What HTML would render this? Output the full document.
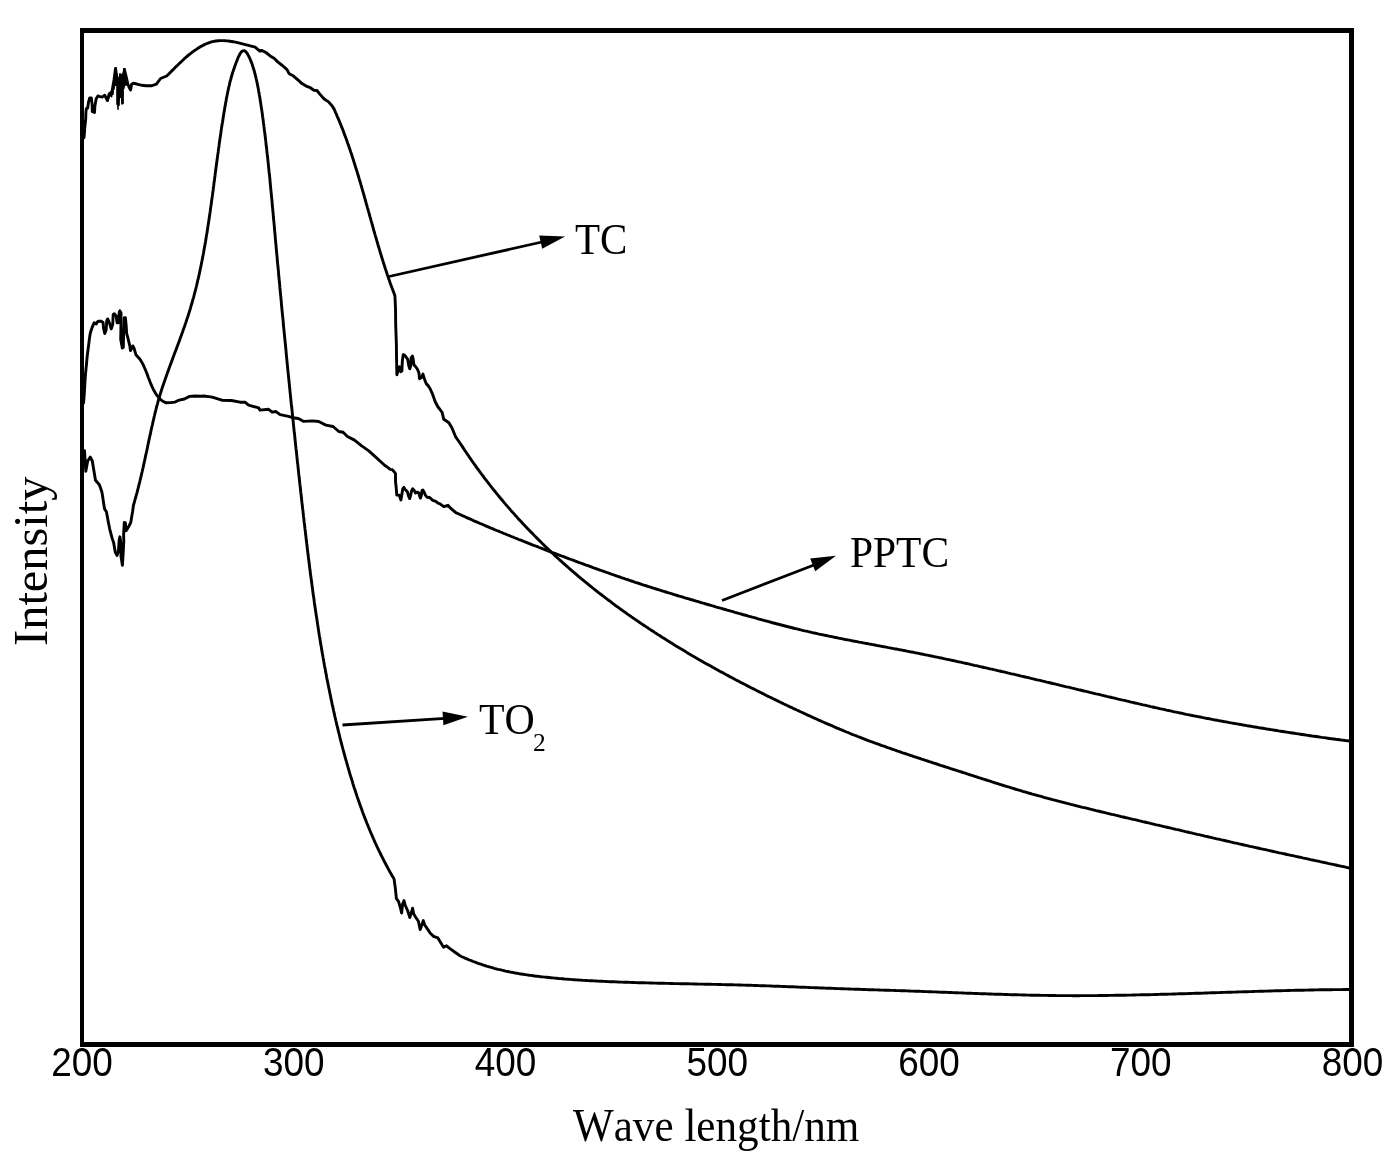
<!DOCTYPE html>
<html><head><meta charset="utf-8"><style>
html,body{margin:0;padding:0;background:#fff;}
body{width:1397px;height:1162px;overflow:hidden;}
svg{display:block;will-change:transform;}
.s{font-family:"Liberation Sans",sans-serif;font-kerning:none;}
.r{font-family:"Liberation Serif",serif;font-kerning:none;}
</style></head><body>
<svg width="1397" height="1162" viewBox="0 0 1397 1162">
<rect x="0" y="0" width="1397" height="1162" fill="#fff"/>
<g fill="none" stroke="#000" stroke-width="2.9" stroke-linejoin="round" stroke-linecap="round">
<polyline points="84.0,137.5 84.4,133.0 84.8,127.6 85.7,119.0 85.9,112.5 86.3,108.7 87.6,108.2 88.5,102.2 89.7,97.9 91.3,97.9 92.1,104.4 92.3,111.7 94.5,112.5 94.9,106.1 96.2,98.8 97.9,96.0 100.1,96.6 102.2,97.0 104.8,95.3 107.4,100.5 109.1,94.0 110.5,93.0 112.0,91.5 114.0,80.0 115.5,68.5 117.0,78.0 119.0,85.0 120.5,75.0 122.0,80.0 124.5,70.0 126.5,78.0 127.8,84.0 129.2,87.5 130.6,90.0 131.5,84.4 133.0,83.3 134.7,83.5 138.0,84.4 142.0,85.3 146.1,85.8 151.3,85.8 156.4,84.2 160.6,78.5 166.7,76.0 168.0,74.7 169.4,73.4 170.7,72.0 172.1,70.6 173.5,69.2 174.9,67.8 176.3,66.4 177.8,65.0 179.3,63.5 180.8,62.1 182.3,60.7 183.8,59.3 185.3,57.9 186.9,56.5 188.5,55.2 190.1,53.9 191.7,52.6 193.3,51.4 195.0,50.2 196.7,49.1 198.3,48.0 200.1,46.9 201.8,46.0 203.5,45.1 205.3,44.2 207.1,43.5 208.8,42.8 210.7,42.2 212.5,41.7 214.3,41.3 216.2,41.0 218.1,40.8 220.0,40.6 221.9,40.6 223.8,40.6 225.7,40.8 227.7,40.9 229.6,41.2 231.6,41.5 233.5,41.8 235.5,42.2 237.5,42.6 239.5,43.1 241.4,43.6 243.4,44.1 245.4,44.6 247.4,45.1 249.3,45.6 251.3,46.2 253.3,46.7 255.2,47.2 259.8,51.2 261.6,50.4 265.9,52.5 270.2,55.9 274.1,58.3 277.7,61.9 282.4,65.5 287.0,69.6 289.1,73.7 293.2,75.8 297.9,79.9 302.0,83.6 306.1,86.1 310.3,87.7 313.9,90.3 317.0,90.5 319.6,93.9 324.2,99.0 328.3,101.6 332.0,105.8 334.0,108.9 334.8,110.7 335.6,112.6 336.5,114.4 337.2,116.3 338.0,118.1 338.8,119.9 339.6,121.8 340.3,123.7 341.1,125.5 341.8,127.4 342.6,129.2 343.3,131.1 344.0,133.0 344.7,134.9 345.4,136.7 346.1,138.6 346.8,140.5 347.4,142.4 348.1,144.3 348.8,146.2 349.4,148.1 350.1,150.0 350.7,151.9 351.4,153.8 352.0,155.7 352.6,157.6 353.2,159.5 353.8,161.4 354.4,163.3 355.0,165.2 355.6,167.1 356.2,169.0 356.8,170.9 357.4,172.9 358.0,174.8 358.6,176.7 359.1,178.6 359.7,180.5 360.3,182.5 360.8,184.4 361.4,186.3 362.0,188.3 362.5,190.2 363.1,192.1 363.6,194.0 364.2,196.0 364.7,197.9 365.3,199.8 365.8,201.8 366.3,203.7 366.9,205.6 367.4,207.6 368.0,209.5 368.5,211.4 369.1,213.4 369.6,215.3 370.1,217.2 370.7,219.2 371.2,221.1 371.8,223.0 372.3,225.0 372.9,226.9 373.4,228.8 373.9,230.8 374.5,232.7 375.0,234.6 375.6,236.6 376.2,238.5 376.7,240.4 377.3,242.4 377.8,244.3 378.4,246.2 379.0,248.1 379.6,250.1 380.1,252.0 380.7,253.9 381.3,255.8 381.9,257.7 382.5,259.7 383.1,261.6 383.7,263.5 384.3,265.4 384.9,267.3 385.5,269.2 386.2,271.1 386.8,273.0 387.4,274.9 388.1,276.8 388.7,278.7 389.4,280.6 390.0,282.5 390.7,284.4 391.4,286.3 392.1,288.2 392.8,290.1 393.5,291.9 394.2,293.8 394.9,295.7 395.5,308.0 395.7,324.8 396.4,345.0 396.5,356.3 396.9,374.8 398.5,368.4 399.5,366.7 400.6,371.8 401.9,371.0 402.3,361.5 403.2,354.6 404.5,355.1 406.2,357.2 407.7,359.4 408.8,365.8 409.8,368.8 410.7,365.8 411.1,358.1 412.4,355.9 413.3,359.8 413.9,364.9 415.7,366.7 417.4,369.2 418.9,372.7 419.5,378.7 421.2,377.8 423.0,374.0 423.8,377.0 425.1,380.9 426.4,383.9 428.1,385.6 429.8,388.2 432.5,394.0 435.2,401.7 438.0,407.0 440.0,409.5 442.1,412.4 443.8,419.3 448.9,422.7 452.0,428.0 455.8,437.2 460.0,443.0 461.1,444.7 462.2,446.4 463.3,448.1 464.4,449.8 465.6,451.5 466.7,453.2 467.8,454.8 469.0,456.5 470.1,458.2 471.3,459.8 472.4,461.5 473.6,463.2 474.8,464.8 475.9,466.4 477.1,468.1 478.3,469.7 479.5,471.3 480.7,473.0 481.9,474.6 483.1,476.2 484.3,477.8 485.5,479.4 486.8,481.0 488.0,482.6 489.2,484.2 490.5,485.8 491.7,487.3 492.9,488.9 494.2,490.5 495.5,492.0 496.7,493.6 498.0,495.2 499.3,496.7 500.5,498.3 501.8,499.8 503.1,501.3 504.4,502.9 505.7,504.4 507.0,505.9 508.3,507.4 509.6,508.9 510.9,510.4 512.3,511.9 513.6,513.4 514.9,514.9 516.3,516.4 517.6,517.9 519.0,519.4 520.3,520.8 521.7,522.3 523.0,523.8 524.4,525.2 525.8,526.7 527.1,528.1 528.5,529.5 529.9,531.0 531.3,532.4 532.7,533.8 534.1,535.3 535.5,536.7 536.9,538.1 538.3,539.5 539.7,540.9 541.1,542.3 542.5,543.7 544.0,545.1 545.4,546.5 546.8,547.9 548.3,549.2 549.7,550.6 551.1,552.0 552.6,553.3 554.1,554.7 555.5,556.1 557.0,557.4 558.4,558.7 559.9,560.1 561.4,561.4 562.9,562.8 564.4,564.1 565.8,565.4 567.3,566.7 568.8,568.0 570.3,569.3 571.8,570.6 573.3,571.9 574.8,573.2 576.4,574.5 577.9,575.8 579.4,577.1 580.9,578.4 582.4,579.6 584.0,580.9 585.5,582.1 587.1,583.4 588.6,584.7 590.1,585.9 591.7,587.2 593.2,588.4 594.8,589.6 596.4,590.9 597.9,592.1 599.5,593.3 601.1,594.5 602.6,595.7 604.2,596.9 605.8,598.1 607.4,599.3 609.0,600.5 610.6,601.7 612.1,602.9 613.7,604.1 615.3,605.3 616.9,606.5 618.6,607.6 620.2,608.8 621.8,610.0 623.4,611.1 625.0,612.3 626.6,613.4 628.2,614.6 629.9,615.7 631.5,616.9 633.1,618.0 634.8,619.1 636.4,620.2 638.1,621.4 639.7,622.5 641.3,623.6 643.0,624.7 644.6,625.8 646.3,626.9 648.0,628.0 649.6,629.1 651.3,630.2 653.0,631.3 654.6,632.4 656.3,633.5 658.0,634.6 659.6,635.6 661.3,636.7 663.0,637.8 664.7,638.8 666.4,639.9 668.1,641.0 669.8,642.0 671.4,643.1 673.1,644.1 674.8,645.2 676.5,646.2 678.2,647.2 679.9,648.3 681.7,649.3 683.4,650.3 685.1,651.3 686.8,652.4 688.5,653.4 690.2,654.4 691.9,655.4 693.7,656.4 695.4,657.4 697.1,658.4 698.8,659.4 700.6,660.4 702.3,661.4 704.0,662.4 705.8,663.4 707.5,664.4 709.3,665.3 711.0,666.3 712.7,667.3 714.5,668.3 716.2,669.2 718.0,670.2 719.7,671.2 721.5,672.1 723.3,673.1 725.0,674.0 726.8,675.0 728.5,675.9 730.3,676.9 732.1,677.8 733.8,678.7 735.6,679.7 737.4,680.6 739.1,681.5 740.9,682.5 742.7,683.4 744.5,684.3 746.3,685.2 748.0,686.1 749.8,687.1 751.6,688.0 753.4,688.9 755.2,689.8 757.0,690.7 758.8,691.6 760.6,692.5 762.4,693.4 764.2,694.3 765.9,695.2 767.7,696.1 769.6,697.0 771.4,697.8 773.2,698.7 775.0,699.6 776.8,700.5 778.6,701.4 780.4,702.2 782.2,703.1 784.0,704.0 785.8,704.8 787.7,705.7 789.5,706.6 791.3,707.4 793.1,708.3 794.9,709.1 796.8,710.0 798.6,710.8 800.4,711.7 802.2,712.5 804.1,713.4 805.9,714.2 807.7,715.1 809.6,715.9 811.4,716.7 813.2,717.6 815.1,718.4 816.9,719.2 818.8,720.1 820.6,720.9 822.4,721.7 824.3,722.5 826.1,723.3 828.0,724.1 829.8,724.9 831.7,725.7 833.5,726.5 835.4,727.3 837.2,728.1 839.1,728.9 840.9,729.7 842.8,730.4 844.6,731.2 846.5,732.0 848.4,732.7 850.2,733.5 852.1,734.3 853.9,735.0 855.8,735.7 857.7,736.5 859.5,737.2 861.4,737.9 863.3,738.6 865.1,739.4 867.0,740.1 868.9,740.8 870.7,741.5 872.6,742.2 874.5,742.9 876.4,743.5 878.2,744.2 880.1,744.9 882.0,745.6 883.9,746.2 885.8,746.9 887.6,747.6 889.5,748.2 891.4,748.9 893.3,749.5 895.2,750.2 897.0,750.8 898.9,751.5 900.8,752.1 902.7,752.8 904.6,753.4 906.5,754.0 908.4,754.7 910.2,755.3 912.1,755.9 914.0,756.6 915.9,757.2 917.8,757.8 919.7,758.4 921.6,759.1 923.5,759.7 925.4,760.3 927.3,760.9 929.2,761.6 931.1,762.2 933.0,762.8 934.8,763.4 936.7,764.0 938.6,764.6 940.5,765.3 942.4,765.9 944.3,766.5 946.2,767.1 948.1,767.7 950.0,768.3 951.9,769.0 953.9,769.6 955.8,770.2 957.7,770.8 959.6,771.4 961.5,772.0 963.4,772.6 965.3,773.2 967.2,773.9 969.1,774.5 971.0,775.1 972.9,775.7 974.8,776.3 976.7,776.9 978.6,777.6 980.6,778.2 982.5,778.8 984.4,779.4 986.3,780.0 988.2,780.6 990.1,781.2 992.0,781.8 993.9,782.5 995.9,783.1 997.8,783.7 999.7,784.3 1001.6,784.9 1003.5,785.5 1005.5,786.1 1007.4,786.7 1009.3,787.2 1011.2,787.8 1013.1,788.4 1015.0,789.0 1017.0,789.6 1018.9,790.2 1020.8,790.7 1022.7,791.3 1024.7,791.8 1026.6,792.4 1028.5,793.0 1030.4,793.5 1032.4,794.1 1034.3,794.6 1036.2,795.1 1038.1,795.7 1040.1,796.2 1042.0,796.7 1043.9,797.3 1045.8,797.8 1047.8,798.3 1049.7,798.8 1051.6,799.4 1053.6,799.9 1055.5,800.4 1057.4,800.9 1059.3,801.4 1061.3,801.9 1063.2,802.4 1065.1,802.9 1067.1,803.4 1069.0,803.9 1070.9,804.4 1072.9,804.8 1074.8,805.3 1076.7,805.8 1078.7,806.3 1080.6,806.8 1082.5,807.3 1084.5,807.7 1086.4,808.2 1088.4,808.7 1090.3,809.2 1092.2,809.6 1094.2,810.1 1096.1,810.6 1098.0,811.0 1100.0,811.5 1101.9,812.0 1103.9,812.4 1105.8,812.9 1107.7,813.3 1109.7,813.8 1111.6,814.3 1113.6,814.7 1115.5,815.2 1117.4,815.6 1119.4,816.1 1121.3,816.6 1123.3,817.0 1125.2,817.5 1127.1,817.9 1129.1,818.4 1131.0,818.8 1133.0,819.3 1134.9,819.7 1136.9,820.2 1138.8,820.7 1140.8,821.1 1142.7,821.6 1144.6,822.0 1146.6,822.5 1148.5,822.9 1150.5,823.4 1152.4,823.8 1154.4,824.3 1156.3,824.8 1158.3,825.2 1160.2,825.7 1162.2,826.1 1164.1,826.6 1166.1,827.0 1168.0,827.5 1169.9,827.9 1171.9,828.4 1173.8,828.8 1175.8,829.3 1177.7,829.7 1179.7,830.2 1181.6,830.7 1183.6,831.1 1185.5,831.6 1187.5,832.0 1189.4,832.5 1191.4,832.9 1193.3,833.4 1195.3,833.8 1197.2,834.3 1199.2,834.7 1201.1,835.2 1203.1,835.6 1205.0,836.1 1207.0,836.5 1208.9,837.0 1210.9,837.4 1212.8,837.9 1214.8,838.3 1216.7,838.8 1218.7,839.2 1220.6,839.7 1222.6,840.1 1224.6,840.5 1226.5,841.0 1228.5,841.4 1230.4,841.9 1232.4,842.3 1234.3,842.8 1236.3,843.2 1238.2,843.7 1240.2,844.1 1242.1,844.5 1244.1,845.0 1246.0,845.4 1248.0,845.8 1249.9,846.3 1251.9,846.7 1253.8,847.2 1255.8,847.6 1257.7,848.0 1259.7,848.5 1261.6,848.9 1263.6,849.3 1265.6,849.7 1267.5,850.2 1269.5,850.6 1271.4,851.0 1273.4,851.5 1275.3,851.9 1277.3,852.3 1279.2,852.8 1281.2,853.2 1283.1,853.6 1285.1,854.0 1287.0,854.5 1289.0,854.9 1290.9,855.3 1292.9,855.7 1294.8,856.2 1296.8,856.6 1298.8,857.0 1300.7,857.4 1302.7,857.9 1304.6,858.3 1306.6,858.7 1308.5,859.1 1310.5,859.6 1312.4,860.0 1314.4,860.4 1316.3,860.8 1318.3,861.2 1320.2,861.7 1322.2,862.1 1324.1,862.5 1326.1,862.9 1328.0,863.4 1330.0,863.8 1331.9,864.2 1333.9,864.6 1335.8,865.0 1337.8,865.5 1339.7,865.9 1341.7,866.3 1343.6,866.7 1345.6,867.2 1347.5,867.6 1349.5,868.0"/>
<polyline points="83.5,403.0 84.2,395.0 84.8,385.0 85.4,375.0 86.4,365.0 87.1,357.0 88.0,350.0 88.9,343.0 89.7,336.6 90.4,332.7 91.5,329.3 92.8,325.8 94.1,322.8 95.2,323.5 96.2,324.0 97.3,322.0 98.4,321.3 100.9,321.1 103.1,322.4 103.5,328.0 104.8,333.6 106.1,330.1 106.8,320.7 107.6,318.9 108.6,320.7 109.9,324.3 111.2,328.9 112.7,324.8 113.2,314.5 114.3,313.7 116.1,316.0 117.1,322.7 118.6,322.7 119.2,312.4 119.9,310.8 121.0,312.9 120.9,330.0 120.7,339.2 122.3,348.0 123.3,347.5 123.6,335.1 124.3,317.6 125.4,317.6 126.1,324.8 126.7,333.6 127.7,337.2 128.7,341.3 129.7,345.4 130.5,350.6 132.8,345.9 134.1,348.5 135.9,354.7 140.0,359.2 141.0,360.9 142.0,362.6 143.0,364.4 143.8,366.2 144.6,368.0 145.4,369.9 146.2,371.8 147.0,373.8 147.7,375.7 148.4,377.7 149.2,379.6 149.9,381.5 150.7,383.5 151.5,385.4 152.3,387.2 153.2,389.1 154.1,390.8 155.1,392.6 156.2,394.3 157.3,395.9 158.6,397.4 159.9,398.8 161.3,400.1 162.9,401.2 164.5,402.1 166.3,402.8 170.5,402.6 175.1,402.1 178.2,400.4 184.4,399.0 189.6,396.4 195.0,396.0 200.0,396.2 203.9,396.0 212.2,397.1 221.8,400.2 231.5,400.5 240.0,402.2 245.0,402.2 248.6,405.1 258.6,407.9 260.0,410.1 268.6,409.3 272.2,412.2 275.8,411.5 280.1,414.6 288.5,416.3 292.8,417.7 298.4,418.5 303.7,421.4 312.5,420.9 318.7,421.5 325.9,425.1 333.1,426.5 338.8,431.5 343.1,432.3 347.4,436.5 354.5,440.1 361.7,445.9 368.8,450.9 376.0,457.3 384.6,465.2 388.0,467.6 390.2,469.3 392.3,469.7 394.0,471.5 395.5,473.6 395.5,481.4 396.2,487.8 396.8,495.1 399.2,495.1 400.9,499.9 401.8,494.7 402.8,488.7 403.9,487.4 405.2,489.5 407.4,491.7 408.4,495.6 409.7,498.6 410.8,494.7 411.7,490.4 412.7,488.7 414.2,490.4 415.5,493.0 417.3,492.1 418.8,493.0 420.3,498.1 421.3,495.6 422.0,490.4 422.9,490.0 424.1,492.1 425.4,495.1 427.2,497.3 429.7,497.5 432.8,500.3 435.8,501.4 438.0,503.2 440.0,503.8 443.8,506.6 446.0,506.0 448.1,505.3 450.0,507.6 455.8,512.6 460.0,514.5 461.8,515.3 463.6,516.2 465.5,517.0 467.3,517.8 469.1,518.6 471.0,519.4 472.8,520.3 474.6,521.1 476.4,521.9 478.3,522.7 480.1,523.5 482.0,524.2 483.8,525.0 485.6,525.8 487.5,526.6 489.3,527.4 491.1,528.2 493.0,528.9 494.8,529.7 496.7,530.5 498.5,531.2 500.4,532.0 502.2,532.7 504.0,533.5 505.9,534.2 507.7,535.0 509.6,535.7 511.4,536.5 513.3,537.2 515.1,538.0 517.0,538.7 518.8,539.5 520.7,540.2 522.6,540.9 524.4,541.7 526.3,542.4 528.1,543.1 530.0,543.8 531.8,544.6 533.7,545.3 535.6,546.0 537.4,546.7 539.3,547.5 541.1,548.2 543.0,548.9 544.9,549.6 546.7,550.3 548.6,551.1 550.5,551.8 552.3,552.5 554.2,553.2 556.1,553.9 558.0,554.6 559.8,555.3 561.7,556.0 563.6,556.7 565.4,557.4 567.3,558.1 569.2,558.8 571.1,559.5 573.0,560.2 574.8,560.9 576.7,561.6 578.6,562.3 580.5,563.0 582.3,563.7 584.2,564.4 586.1,565.1 588.0,565.7 589.9,566.4 591.8,567.1 593.6,567.8 595.5,568.5 597.4,569.1 599.3,569.8 601.2,570.5 603.1,571.2 605.0,571.8 606.9,572.5 608.8,573.2 610.6,573.8 612.5,574.5 614.4,575.2 616.3,575.8 618.2,576.5 620.1,577.1 622.0,577.8 623.9,578.4 625.8,579.1 627.7,579.7 629.6,580.4 631.5,581.0 633.4,581.6 635.3,582.3 637.2,582.9 639.1,583.5 641.0,584.1 642.9,584.8 644.8,585.4 646.7,586.0 648.6,586.6 650.5,587.2 652.4,587.8 654.3,588.4 656.2,589.0 658.1,589.6 660.0,590.2 662.0,590.8 663.9,591.4 665.8,592.0 667.7,592.6 669.6,593.2 671.5,593.7 673.4,594.3 675.3,594.9 677.2,595.5 679.2,596.1 681.1,596.6 683.0,597.2 684.9,597.8 686.8,598.3 688.7,598.9 690.7,599.5 692.6,600.0 694.5,600.6 696.4,601.2 698.3,601.7 700.3,602.3 702.2,602.9 704.1,603.4 706.0,604.0 707.9,604.5 709.9,605.1 711.8,605.7 713.7,606.2 715.6,606.8 717.5,607.3 719.5,607.9 721.4,608.4 723.3,609.0 725.3,609.5 727.2,610.1 729.1,610.6 731.0,611.2 733.0,611.7 734.9,612.3 736.8,612.8 738.7,613.4 740.7,613.9 742.6,614.5 744.5,615.0 746.5,615.5 748.4,616.1 750.3,616.6 752.3,617.2 754.2,617.7 756.1,618.2 758.1,618.8 760.0,619.3 761.9,619.8 763.9,620.4 765.8,620.9 767.7,621.4 769.7,621.9 771.6,622.5 773.5,623.0 775.5,623.5 777.4,624.0 779.4,624.5 781.3,625.0 783.2,625.5 785.2,626.0 787.1,626.5 789.1,627.0 791.0,627.5 792.9,628.0 794.9,628.5 796.8,628.9 798.8,629.4 800.7,629.9 802.6,630.3 804.6,630.8 806.5,631.2 808.5,631.7 810.4,632.1 812.3,632.6 814.3,633.0 816.2,633.4 818.2,633.9 820.1,634.3 822.1,634.7 824.0,635.1 826.0,635.5 827.9,635.9 829.9,636.3 831.8,636.7 833.7,637.1 835.7,637.5 837.6,637.9 839.6,638.3 841.5,638.7 843.5,639.1 845.4,639.5 847.4,639.8 849.3,640.2 851.3,640.6 853.2,641.0 855.2,641.3 857.1,641.7 859.1,642.1 861.0,642.4 863.0,642.8 864.9,643.2 866.9,643.5 868.8,643.9 870.8,644.3 872.7,644.6 874.7,645.0 876.6,645.4 878.6,645.7 880.5,646.1 882.5,646.5 884.4,646.8 886.4,647.2 888.3,647.6 890.3,647.9 892.2,648.3 894.2,648.7 896.1,649.0 898.1,649.4 900.0,649.8 902.0,650.1 904.0,650.5 905.9,650.9 907.9,651.3 909.8,651.7 911.8,652.0 913.7,652.4 915.7,652.8 917.6,653.2 919.6,653.6 921.5,654.0 923.5,654.4 925.4,654.8 927.4,655.2 929.4,655.6 931.3,656.0 933.3,656.4 935.2,656.8 937.2,657.2 939.1,657.6 941.1,658.0 943.0,658.4 945.0,658.9 947.0,659.3 948.9,659.7 950.9,660.1 952.8,660.5 954.8,660.9 956.7,661.4 958.7,661.8 960.6,662.2 962.6,662.7 964.6,663.1 966.5,663.5 968.5,663.9 970.4,664.4 972.4,664.8 974.3,665.3 976.3,665.7 978.3,666.1 980.2,666.6 982.2,667.0 984.1,667.5 986.1,667.9 988.0,668.3 990.0,668.8 992.0,669.2 993.9,669.7 995.9,670.1 997.8,670.6 999.8,671.0 1001.8,671.5 1003.7,671.9 1005.7,672.4 1007.6,672.9 1009.6,673.3 1011.5,673.8 1013.5,674.2 1015.5,674.7 1017.4,675.1 1019.4,675.6 1021.3,676.1 1023.3,676.5 1025.3,677.0 1027.2,677.4 1029.2,677.9 1031.1,678.4 1033.1,678.8 1035.1,679.3 1037.0,679.8 1039.0,680.2 1040.9,680.7 1042.9,681.2 1044.9,681.6 1046.8,682.1 1048.8,682.5 1050.7,683.0 1052.7,683.5 1054.7,683.9 1056.6,684.4 1058.6,684.9 1060.5,685.4 1062.5,685.8 1064.5,686.3 1066.4,686.8 1068.4,687.2 1070.4,687.7 1072.3,688.2 1074.3,688.6 1076.2,689.1 1078.2,689.6 1080.2,690.0 1082.1,690.5 1084.1,691.0 1086.0,691.4 1088.0,691.9 1090.0,692.4 1091.9,692.8 1093.9,693.3 1095.9,693.8 1097.8,694.2 1099.8,694.7 1101.7,695.2 1103.7,695.6 1105.7,696.1 1107.6,696.6 1109.6,697.0 1111.6,697.5 1113.5,697.9 1115.5,698.4 1117.4,698.9 1119.4,699.3 1121.4,699.8 1123.3,700.2 1125.3,700.7 1127.3,701.2 1129.2,701.6 1131.2,702.1 1133.2,702.5 1135.1,703.0 1137.1,703.4 1139.0,703.9 1141.0,704.3 1143.0,704.8 1144.9,705.2 1146.9,705.7 1148.9,706.1 1150.8,706.6 1152.8,707.0 1154.8,707.5 1156.7,707.9 1158.7,708.3 1160.7,708.8 1162.6,709.2 1164.6,709.6 1166.5,710.1 1168.5,710.5 1170.5,710.9 1172.4,711.3 1174.4,711.8 1176.4,712.2 1178.3,712.6 1180.3,713.0 1182.3,713.4 1184.2,713.8 1186.2,714.3 1188.2,714.7 1190.1,715.1 1192.1,715.5 1194.1,715.9 1196.0,716.2 1198.0,716.6 1200.0,717.0 1201.9,717.4 1203.9,717.8 1205.9,718.2 1207.8,718.5 1209.8,718.9 1211.8,719.3 1213.7,719.7 1215.7,720.0 1217.7,720.4 1219.6,720.8 1221.6,721.1 1223.6,721.5 1225.5,721.8 1227.5,722.2 1229.5,722.6 1231.4,722.9 1233.4,723.3 1235.4,723.6 1237.3,723.9 1239.3,724.3 1241.3,724.6 1243.2,725.0 1245.2,725.3 1247.2,725.7 1249.1,726.0 1251.1,726.3 1253.1,726.7 1255.0,727.0 1257.0,727.3 1259.0,727.7 1260.9,728.0 1262.9,728.3 1264.9,728.6 1266.8,729.0 1268.8,729.3 1270.8,729.6 1272.7,729.9 1274.7,730.2 1276.7,730.5 1278.6,730.9 1280.6,731.2 1282.6,731.5 1284.5,731.8 1286.5,732.1 1288.5,732.4 1290.4,732.7 1292.4,733.0 1294.4,733.3 1296.3,733.6 1298.3,733.9 1300.3,734.2 1302.2,734.5 1304.2,734.8 1306.2,735.1 1308.1,735.4 1310.1,735.7 1312.1,736.0 1314.1,736.2 1316.0,736.5 1318.0,736.8 1320.0,737.1 1321.9,737.4 1323.9,737.6 1325.9,737.9 1327.8,738.2 1329.8,738.5 1331.8,738.7 1333.7,739.0 1335.7,739.3 1337.7,739.5 1339.6,739.8 1341.6,740.1 1343.6,740.3 1345.6,740.6 1347.5,740.8 1349.5,741.1"/>
<polyline points="84.5,450.6 85.8,471.3 87.7,461.0 90.3,457.1 92.3,461.0 94.2,472.6 95.5,480.3 99.4,484.8 101.9,491.9 104.5,508.7 106.5,512.1 107.5,517.7 108.6,523.4 109.6,528.6 110.9,533.7 112.2,538.4 113.7,543.0 114.5,547.7 115.3,552.3 117.1,555.4 118.4,551.3 119.2,540.0 119.9,536.8 120.7,542.0 121.0,556.5 122.4,565.2 123.0,556.5 123.8,541.0 123.6,534.8 124.3,522.4 125.4,522.9 126.1,530.7 127.2,529.1 129.0,526.0 130.8,522.4 131.6,517.2 132.6,511.5 133.5,505.0 134.1,503.0 134.7,501.0 135.2,499.0 135.8,497.0 136.3,495.1 136.9,493.1 137.4,491.1 137.9,489.1 138.4,487.2 138.9,485.2 139.4,483.2 139.9,481.3 140.3,479.3 140.8,477.3 141.3,475.4 141.7,473.4 142.2,471.5 142.6,469.5 143.1,467.6 143.5,465.6 143.9,463.7 144.4,461.7 144.8,459.8 145.2,457.8 145.6,455.9 146.0,454.0 146.5,452.0 146.9,450.1 147.3,448.2 147.7,446.2 148.1,444.3 148.5,442.4 148.9,440.4 149.3,438.5 149.7,436.6 150.2,434.7 150.6,432.8 151.0,430.8 151.4,428.9 151.8,427.0 152.3,425.1 152.7,423.2 153.1,421.3 153.6,419.4 154.0,417.4 154.5,415.5 154.9,413.6 155.4,411.7 155.9,409.8 156.3,407.9 156.8,406.0 157.4,404.1 157.9,402.2 158.4,400.3 159.0,398.4 159.5,396.5 160.1,394.6 160.7,392.7 161.3,390.8 161.9,388.9 162.5,387.0 163.2,385.1 163.8,383.2 164.5,381.3 165.1,379.4 165.8,377.5 166.5,375.6 167.1,373.7 167.8,371.8 168.5,369.9 169.2,368.0 169.9,366.1 170.6,364.2 171.3,362.3 172.0,360.4 172.7,358.5 173.4,356.6 174.1,354.7 174.8,352.8 175.6,350.9 176.3,349.0 177.0,347.1 177.7,345.2 178.4,343.3 179.1,341.4 179.8,339.5 180.5,337.6 181.2,335.7 181.9,333.8 182.6,331.9 183.2,330.0 183.9,328.1 184.6,326.2 185.2,324.3 185.9,322.4 186.5,320.5 187.1,318.6 187.8,316.7 188.4,314.8 189.0,312.9 189.6,311.0 190.2,309.1 190.7,307.2 191.3,305.2 191.9,303.3 192.4,301.4 192.9,299.5 193.5,297.6 194.0,295.6 194.5,293.7 195.0,291.8 195.5,289.9 196.0,288.0 196.5,286.0 196.9,284.1 197.4,282.2 197.8,280.2 198.3,278.3 198.7,276.4 199.2,274.4 199.6,272.5 200.0,270.5 200.4,268.6 200.8,266.7 201.2,264.7 201.6,262.8 202.0,260.8 202.4,258.9 202.7,256.9 203.1,255.0 203.5,253.0 203.8,251.0 204.2,249.1 204.5,247.1 204.9,245.1 205.2,243.2 205.6,241.2 205.9,239.2 206.2,237.3 206.5,235.3 206.9,233.3 207.2,231.4 207.5,229.4 207.8,227.4 208.1,225.4 208.4,223.4 208.7,221.5 209.0,219.5 209.3,217.5 209.6,215.5 209.9,213.5 210.2,211.5 210.4,209.6 210.7,207.6 211.0,205.6 211.3,203.6 211.5,201.6 211.8,199.6 212.1,197.6 212.4,195.7 212.6,193.7 212.9,191.7 213.2,189.7 213.4,187.7 213.7,185.7 213.9,183.7 214.2,181.7 214.5,179.7 214.7,177.7 215.0,175.7 215.2,173.8 215.5,171.8 215.8,169.8 216.0,167.8 216.3,165.8 216.6,163.8 216.8,161.8 217.1,159.8 217.4,157.8 217.6,155.9 217.9,153.9 218.2,151.9 218.4,149.9 218.7,147.9 219.0,145.9 219.2,144.0 219.5,142.0 219.8,140.0 220.1,138.0 220.4,136.0 220.7,134.1 221.0,132.1 221.2,130.1 221.5,128.1 221.8,126.2 222.1,124.2 222.5,122.2 222.8,120.2 223.1,118.3 223.4,116.3 223.7,114.3 224.0,112.4 224.4,110.4 224.7,108.5 225.0,106.5 225.4,104.6 225.7,102.6 226.1,100.6 226.4,98.7 226.8,96.7 227.2,94.8 227.6,92.8 228.0,90.9 228.4,89.0 228.8,87.0 229.3,85.1 229.7,83.1 230.2,81.1 230.8,79.2 231.3,77.2 231.9,75.3 232.4,73.3 233.1,71.3 233.7,69.4 234.4,67.4 235.1,65.4 235.9,63.3 236.7,61.3 237.5,59.2 238.3,57.1 239.3,55.2 240.2,53.5 241.2,52.1 242.2,51.2 243.3,50.7 244.3,50.7 245.4,51.3 246.4,52.4 247.5,53.9 248.4,55.6 249.4,57.5 250.2,59.4 251.0,61.4 251.8,63.3 252.5,65.3 253.1,67.3 253.7,69.2 254.3,71.2 254.8,73.1 255.3,75.1 255.8,77.0 256.2,79.0 256.7,81.0 257.1,82.9 257.5,84.9 257.9,86.9 258.3,88.8 258.6,90.8 259.0,92.8 259.3,94.7 259.7,96.7 260.0,98.7 260.3,100.6 260.6,102.6 260.9,104.6 261.2,106.6 261.5,108.6 261.8,110.5 262.1,112.5 262.4,114.5 262.6,116.5 262.9,118.5 263.2,120.4 263.4,122.4 263.7,124.4 263.9,126.4 264.2,128.4 264.4,130.4 264.7,132.3 264.9,134.3 265.2,136.3 265.4,138.3 265.7,140.3 265.9,142.3 266.1,144.3 266.3,146.3 266.6,148.3 266.8,150.3 267.0,152.3 267.2,154.2 267.5,156.2 267.7,158.2 267.9,160.2 268.1,162.2 268.3,164.2 268.5,166.2 268.7,168.2 268.9,170.2 269.1,172.2 269.4,174.2 269.6,176.2 269.8,178.2 270.0,180.2 270.1,182.2 270.3,184.2 270.5,186.2 270.7,188.2 270.9,190.2 271.1,192.2 271.3,194.2 271.5,196.2 271.7,198.2 271.9,200.2 272.1,202.2 272.2,204.2 272.4,206.2 272.6,208.2 272.8,210.2 273.0,212.2 273.2,214.2 273.3,216.2 273.5,218.2 273.7,220.2 273.9,222.2 274.1,224.2 274.3,226.2 274.4,228.2 274.6,230.2 274.8,232.2 275.0,234.2 275.2,236.1 275.3,238.1 275.5,240.1 275.7,242.1 275.9,244.1 276.1,246.1 276.2,248.1 276.4,250.1 276.6,252.1 276.8,254.1 277.0,256.1 277.2,258.1 277.3,260.1 277.5,262.1 277.7,264.1 277.9,266.0 278.1,268.0 278.3,270.0 278.5,272.0 278.6,274.0 278.8,276.0 279.0,278.0 279.2,280.0 279.4,282.0 279.6,284.0 279.8,285.9 279.9,287.9 280.1,289.9 280.3,291.9 280.5,293.9 280.7,295.9 280.9,297.9 281.1,299.9 281.3,301.8 281.4,303.8 281.6,305.8 281.8,307.8 282.0,309.8 282.2,311.8 282.4,313.8 282.6,315.8 282.8,317.7 283.0,319.7 283.2,321.7 283.3,323.7 283.5,325.7 283.7,327.7 283.9,329.6 284.1,331.6 284.3,333.6 284.5,335.6 284.7,337.6 284.9,339.6 285.1,341.6 285.3,343.5 285.5,345.5 285.7,347.5 285.9,349.5 286.1,351.5 286.2,353.5 286.4,355.4 286.6,357.4 286.8,359.4 287.0,361.4 287.2,363.4 287.4,365.4 287.6,367.3 287.8,369.3 288.0,371.3 288.2,373.3 288.4,375.3 288.6,377.3 288.8,379.2 289.0,381.2 289.2,383.2 289.4,385.2 289.6,387.2 289.8,389.2 290.0,391.1 290.2,393.1 290.4,395.1 290.6,397.1 290.8,399.1 291.0,401.1 291.2,403.0 291.4,405.0 291.7,407.0 291.9,409.0 292.1,411.0 292.3,413.0 292.5,415.0 292.7,416.9 292.9,418.9 293.1,420.9 293.3,422.9 293.5,424.9 293.7,426.9 293.9,428.8 294.1,430.8 294.3,432.8 294.6,434.8 294.8,436.8 295.0,438.8 295.2,440.8 295.4,442.7 295.6,444.7 295.8,446.7 296.0,448.7 296.3,450.7 296.5,452.7 296.7,454.7 296.9,456.6 297.1,458.6 297.3,460.6 297.5,462.6 297.8,464.6 298.0,466.6 298.2,468.6 298.4,470.6 298.6,472.6 298.8,474.5 299.1,476.5 299.3,478.5 299.5,480.5 299.7,482.5 299.9,484.5 300.2,486.5 300.4,488.5 300.6,490.5 300.8,492.5 301.1,494.5 301.3,496.4 301.5,498.4 301.7,500.4 301.9,502.4 302.2,504.4 302.4,506.4 302.6,508.4 302.9,510.4 303.1,512.4 303.3,514.4 303.5,516.4 303.8,518.4 304.0,520.4 304.2,522.4 304.5,524.4 304.7,526.4 304.9,528.4 305.2,530.4 305.4,532.4 305.6,534.3 305.9,536.3 306.1,538.3 306.3,540.3 306.6,542.3 306.8,544.3 307.1,546.3 307.3,548.3 307.5,550.3 307.8,552.3 308.0,554.3 308.3,556.3 308.5,558.3 308.8,560.3 309.0,562.3 309.3,564.3 309.5,566.3 309.8,568.3 310.0,570.3 310.3,572.3 310.5,574.3 310.8,576.3 311.1,578.3 311.3,580.3 311.6,582.3 311.9,584.3 312.1,586.3 312.4,588.3 312.7,590.3 312.9,592.3 313.2,594.2 313.5,596.2 313.8,598.2 314.1,600.2 314.3,602.2 314.6,604.2 314.9,606.2 315.2,608.2 315.5,610.2 315.8,612.2 316.1,614.2 316.4,616.2 316.7,618.1 317.0,620.1 317.3,622.1 317.6,624.1 317.9,626.1 318.2,628.1 318.5,630.1 318.8,632.1 319.1,634.0 319.4,636.0 319.8,638.0 320.1,640.0 320.4,642.0 320.7,643.9 321.1,645.9 321.4,647.9 321.7,649.9 322.1,651.9 322.4,653.8 322.8,655.8 323.1,657.8 323.5,659.8 323.8,661.7 324.2,663.7 324.5,665.7 324.9,667.7 325.3,669.6 325.6,671.6 326.0,673.6 326.4,675.5 326.7,677.5 327.1,679.5 327.5,681.4 327.9,683.4 328.3,685.4 328.7,687.3 329.1,689.3 329.5,691.2 329.9,693.2 330.3,695.1 330.7,697.1 331.1,699.1 331.5,701.0 331.9,703.0 332.3,704.9 332.8,706.9 333.2,708.8 333.6,710.8 334.1,712.7 334.5,714.7 334.9,716.6 335.4,718.5 335.8,720.5 336.3,722.4 336.7,724.4 337.2,726.3 337.7,728.2 338.1,730.2 338.6,732.1 339.1,734.0 339.6,736.0 340.0,737.9 340.5,739.8 341.0,741.7 341.5,743.7 342.0,745.6 342.5,747.5 343.0,749.4 343.6,751.4 344.1,753.3 344.6,755.2 345.1,757.1 345.6,759.0 346.2,760.9 346.7,762.8 347.3,764.7 347.8,766.6 348.4,768.5 348.9,770.4 349.5,772.4 350.0,774.2 350.6,776.1 351.2,778.0 351.8,779.9 352.4,781.8 352.9,783.7 353.5,785.6 354.1,787.5 354.8,789.4 355.4,791.3 356.0,793.1 356.6,795.0 357.2,796.9 357.9,798.8 358.5,800.6 359.2,802.5 359.8,804.4 360.5,806.2 361.2,808.1 361.9,810.0 362.5,811.8 363.2,813.7 363.9,815.5 364.6,817.4 365.4,819.3 366.1,821.1 366.8,823.0 367.6,824.8 368.3,826.6 369.1,828.5 369.8,830.3 370.6,832.2 371.4,834.0 372.2,835.8 373.0,837.7 373.8,839.5 374.6,841.3 375.4,843.1 376.3,845.0 377.1,846.8 378.0,848.6 378.8,850.4 379.7,852.2 380.6,854.0 381.5,855.8 382.4,857.6 383.3,859.4 384.2,861.2 385.2,863.0 386.1,864.8 387.1,866.6 388.0,868.4 389.0,870.2 390.0,872.0 391.0,873.8 392.0,875.6 393.1,877.3 394.1,879.1 395.4,888.9 396.4,898.6 398.5,901.3 400.5,908.2 401.6,913.0 402.6,904.1 404.0,900.6 405.3,905.5 407.8,911.0 409.8,917.5 411.5,912.3 412.6,908.2 413.6,913.7 415.7,917.2 418.4,921.3 420.2,929.6 421.9,924.7 423.3,920.6 424.6,924.7 427.4,928.9 430.1,933.0 433.6,936.4 437.9,937.9 440.0,941.5 443.6,947.2 446.5,945.8 450.0,948.6 455.0,952.2 460.0,955.8 461.9,956.7 463.7,957.5 465.6,958.4 467.5,959.2 469.4,960.0 471.3,960.7 473.2,961.5 475.1,962.2 477.0,962.9 478.9,963.6 480.8,964.2 482.7,964.8 484.6,965.5 486.5,966.1 488.4,966.6 490.3,967.2 492.2,967.7 494.2,968.3 496.1,968.8 498.0,969.3 499.9,969.7 501.9,970.2 503.8,970.6 505.7,971.1 507.7,971.5 509.6,971.9 511.5,972.3 513.5,972.6 515.4,973.0 517.4,973.3 519.3,973.7 521.2,974.0 523.2,974.3 525.1,974.6 527.1,974.9 529.1,975.2 531.0,975.4 533.0,975.7 534.9,976.0 536.9,976.2 538.8,976.4 540.8,976.7 542.8,976.9 544.7,977.1 546.7,977.3 548.7,977.5 550.6,977.7 552.6,977.9 554.6,978.1 556.5,978.3 558.5,978.5 560.5,978.6 562.5,978.8 564.4,979.0 566.4,979.1 568.4,979.3 570.4,979.4 572.3,979.6 574.3,979.7 576.3,979.9 578.3,980.0 580.3,980.1 582.2,980.3 584.2,980.4 586.2,980.5 588.2,980.6 590.2,980.7 592.2,980.8 594.2,980.9 596.1,981.0 598.1,981.1 600.1,981.2 602.1,981.3 604.1,981.4 606.1,981.5 608.1,981.6 610.1,981.7 612.1,981.8 614.1,981.8 616.1,981.9 618.1,982.0 620.1,982.1 622.1,982.1 624.1,982.2 626.1,982.3 628.1,982.3 630.1,982.4 632.1,982.5 634.1,982.5 636.1,982.6 638.1,982.7 640.1,982.7 642.1,982.8 644.1,982.8 646.1,982.9 648.1,982.9 650.1,983.0 652.1,983.0 654.1,983.1 656.1,983.1 658.1,983.2 660.1,983.2 662.1,983.3 664.1,983.3 666.1,983.4 668.2,983.4 670.2,983.5 672.2,983.5 674.2,983.6 676.2,983.6 678.2,983.6 680.2,983.7 682.2,983.7 684.2,983.8 686.2,983.8 688.3,983.8 690.3,983.9 692.3,983.9 694.3,984.0 696.3,984.0 698.3,984.1 700.3,984.1 702.3,984.1 704.3,984.2 706.4,984.2 708.4,984.3 710.4,984.3 712.4,984.4 714.4,984.4 716.4,984.4 718.4,984.5 720.4,984.5 722.5,984.6 724.5,984.6 726.5,984.7 728.5,984.7 730.5,984.8 732.5,984.8 734.5,984.9 736.5,984.9 738.6,985.0 740.6,985.0 742.6,985.1 744.6,985.1 746.6,985.2 748.6,985.3 750.6,985.3 752.6,985.4 754.7,985.5 756.7,985.5 758.7,985.6 760.7,985.7 762.7,985.7 764.7,985.8 766.7,985.9 768.7,985.9 770.7,986.0 772.7,986.1 774.8,986.2 776.8,986.2 778.8,986.3 780.8,986.4 782.8,986.5 784.8,986.5 786.8,986.6 788.8,986.7 790.8,986.8 792.8,986.8 794.8,986.9 796.8,987.0 798.9,987.1 800.9,987.2 802.9,987.2 804.9,987.3 806.9,987.4 808.9,987.5 810.9,987.6 812.9,987.6 814.9,987.7 816.9,987.8 818.9,987.9 820.9,988.0 822.9,988.0 824.9,988.1 827.0,988.2 829.0,988.3 831.0,988.3 833.0,988.4 835.0,988.5 837.0,988.6 839.0,988.6 841.0,988.7 843.0,988.8 845.0,988.9 847.0,988.9 849.0,989.0 851.0,989.1 853.0,989.1 855.0,989.2 857.0,989.3 859.0,989.3 861.0,989.4 863.0,989.5 865.0,989.5 867.0,989.6 869.0,989.7 871.1,989.7 873.1,989.8 875.1,989.9 877.1,989.9 879.1,990.0 881.1,990.1 883.1,990.1 885.1,990.2 887.1,990.3 889.1,990.3 891.1,990.4 893.1,990.4 895.1,990.5 897.1,990.6 899.1,990.6 901.1,990.7 903.1,990.8 905.1,990.8 907.1,990.9 909.1,991.0 911.1,991.1 913.1,991.1 915.1,991.2 917.1,991.3 919.1,991.3 921.1,991.4 923.1,991.5 925.1,991.6 927.1,991.6 929.1,991.7 931.1,991.8 933.1,991.9 935.1,991.9 937.1,992.0 939.1,992.1 941.1,992.2 943.1,992.2 945.1,992.3 947.1,992.4 949.1,992.5 951.1,992.5 953.1,992.6 955.1,992.7 957.1,992.8 959.1,992.9 961.1,992.9 963.1,993.0 965.1,993.1 967.1,993.2 969.1,993.2 971.1,993.3 973.1,993.4 975.1,993.5 977.1,993.5 979.1,993.6 981.1,993.7 983.1,993.7 985.1,993.8 987.1,993.9 989.1,994.0 991.1,994.0 993.1,994.1 995.1,994.2 997.1,994.2 999.1,994.3 1001.1,994.3 1003.1,994.4 1005.1,994.5 1007.1,994.5 1009.1,994.6 1011.1,994.7 1013.1,994.7 1015.1,994.8 1017.1,994.8 1019.1,994.9 1021.1,994.9 1023.1,995.0 1025.1,995.0 1027.1,995.1 1029.1,995.1 1031.1,995.2 1033.1,995.2 1035.1,995.2 1037.1,995.3 1039.1,995.3 1041.1,995.4 1043.1,995.4 1045.1,995.4 1047.1,995.4 1049.1,995.5 1051.1,995.5 1053.1,995.5 1055.1,995.5 1057.1,995.6 1059.1,995.6 1061.1,995.6 1063.1,995.6 1065.1,995.6 1067.1,995.6 1069.1,995.6 1071.1,995.6 1073.1,995.7 1075.1,995.7 1077.1,995.7 1079.1,995.7 1081.1,995.6 1083.1,995.6 1085.1,995.6 1087.1,995.6 1089.1,995.6 1091.1,995.6 1093.1,995.6 1095.1,995.6 1097.1,995.6 1099.1,995.5 1101.1,995.5 1103.1,995.5 1105.1,995.5 1107.1,995.5 1109.1,995.4 1111.1,995.4 1113.1,995.4 1115.1,995.3 1117.1,995.3 1119.1,995.3 1121.1,995.2 1123.1,995.2 1125.1,995.2 1127.1,995.1 1129.1,995.1 1131.1,995.1 1133.1,995.0 1135.1,995.0 1137.1,994.9 1139.1,994.9 1141.1,994.8 1143.1,994.8 1145.1,994.8 1147.1,994.7 1149.1,994.7 1151.1,994.6 1153.1,994.6 1155.1,994.5 1157.1,994.5 1159.1,994.4 1161.1,994.3 1163.1,994.3 1165.1,994.2 1167.1,994.2 1169.1,994.1 1171.1,994.1 1173.1,994.0 1175.1,994.0 1177.1,993.9 1179.1,993.8 1181.1,993.8 1183.1,993.7 1185.1,993.7 1187.1,993.6 1189.1,993.5 1191.1,993.5 1193.1,993.4 1195.1,993.3 1197.1,993.3 1199.1,993.2 1201.1,993.2 1203.1,993.1 1205.1,993.0 1207.1,993.0 1209.1,992.9 1211.1,992.8 1213.1,992.8 1215.1,992.7 1217.1,992.6 1219.1,992.6 1221.1,992.5 1223.1,992.4 1225.1,992.4 1227.1,992.3 1229.1,992.2 1231.1,992.2 1233.1,992.1 1235.1,992.1 1237.1,992.0 1239.1,991.9 1241.1,991.9 1243.1,991.8 1245.1,991.7 1247.1,991.7 1249.1,991.6 1251.1,991.6 1253.2,991.5 1255.2,991.4 1257.2,991.4 1259.2,991.3 1261.2,991.2 1263.2,991.2 1265.2,991.1 1267.2,991.1 1269.2,991.0 1271.2,991.0 1273.2,990.9 1275.2,990.8 1277.2,990.8 1279.2,990.7 1281.2,990.7 1283.2,990.6 1285.2,990.6 1287.2,990.5 1289.2,990.5 1291.3,990.4 1293.3,990.4 1295.3,990.3 1297.3,990.3 1299.3,990.2 1301.3,990.2 1303.3,990.2 1305.3,990.1 1307.3,990.1 1309.3,990.0 1311.3,990.0 1313.3,990.0 1315.3,989.9 1317.3,989.9 1319.4,989.8 1321.4,989.8 1323.4,989.8 1325.4,989.8 1327.4,989.7 1329.4,989.7 1331.4,989.7 1333.4,989.6 1335.4,989.6 1337.4,989.6 1339.5,989.6 1341.5,989.6 1343.5,989.5 1345.5,989.5 1347.5,989.5 1349.5,989.5"/>
</g>
<polygon fill="#000" points="108.0,101.6 108.0,93.0 111.0,93.0 111.2,91.3 112.3,91.3 112.3,86.1 113.2,86.1 113.2,78.1 114.0,78.1 114.0,69.1 115.1,69.1 115.1,67.2 116.8,67.2 116.8,74.1 117.7,74.1 117.9,79.0 119.0,79.0 119.2,73.2 120.7,73.2 120.9,74.9 121.8,75.3 122.0,78.1 123.1,78.1 123.1,68.0 125.6,68.0 125.9,74.9 126.7,75.3 126.9,81.8 127.8,82.2 128.2,85.2 126.1,85.7 125.0,86.1 124.6,88.7 123.9,88.9 123.9,103.5 122.9,104.6 121.1,104.6 120.9,97.9 120.0,97.9 119.8,105.7 118.8,105.9 118.8,109.8 117.3,109.8 117.0,104.8 116.2,104.8 116.2,86.1 115.1,86.1 114.7,89.6 113.8,90.0 113.8,94.7 112.7,95.1 112.3,96.9 111.4,97.7 110.8,96.4 109.7,97.3 109.1,99.5 108.9,101.6"/>
<!-- frame -->
<g fill="#000">
<rect x="80" y="28" width="1274" height="5"/>
<rect x="80" y="1042" width="1274" height="5"/>
<rect x="80" y="28" width="4" height="1019"/>
<rect x="1349" y="28" width="5" height="1019"/>
</g>
<!-- arrows -->
<g stroke="#000" stroke-width="2.8" fill="none" stroke-linecap="butt">
<line x1="389" y1="276.5" x2="542" y2="242"/>
<line x1="722" y1="600.5" x2="814" y2="565"/>
<line x1="342.5" y1="725" x2="445" y2="718.3"/>
</g>
<g fill="#000">
<polygon points="565.1,236.5 542.2,248.7 539.2,235.4"/>
<polygon points="836.0,555.7 815.2,571.2 810.2,558.5"/>
<polygon points="467.9,716.8 443.4,725.2 442.5,711.6"/>
</g>
<!-- tick labels -->
<g class="s" font-size="39.8" text-anchor="middle" fill="#000">
<text transform="translate(81.9,1075.6) scale(0.927,1)">200</text>
<text transform="translate(293.7,1075.6) scale(0.927,1)">300</text>
<text transform="translate(505.5,1075.6) scale(0.927,1)">400</text>
<text transform="translate(717.2,1075.6) scale(0.927,1)">500</text>
<text transform="translate(929.0,1075.6) scale(0.927,1)">600</text>
<text transform="translate(1140.8,1075.6) scale(0.927,1)">700</text>
<text transform="translate(1352.6,1075.6) scale(0.927,1)">800</text>
</g>
<g class="r" fill="#000">
<text transform="translate(573,1141.2) scale(0.93,1)" font-size="46.4">Wave length/nm</text>
<text transform="translate(47.2,645.9) rotate(-90) scale(1.008,1)" font-size="48">Intensity</text>
<text transform="translate(575,254.3) scale(0.921,1)" font-size="44.5">TC</text>
<text transform="translate(850,567.2) scale(0.936,1)" font-size="44.3">PPTC</text>
<text transform="translate(479,734) scale(0.956,1)" font-size="43.8">TO</text>
<text transform="translate(533,750.7) scale(0.98,1)" font-size="26">2</text>
</g>
</svg>
</body></html>
